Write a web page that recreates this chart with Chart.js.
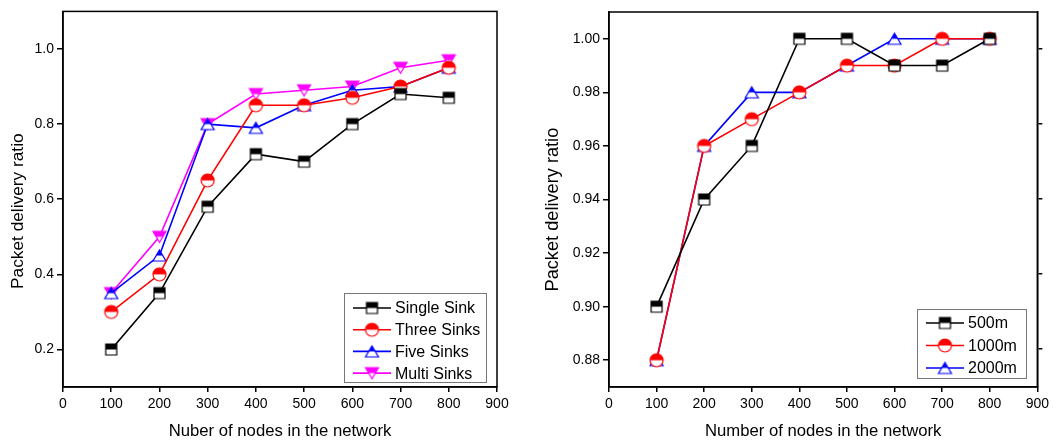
<!DOCTYPE html>
<html>
<head>
<meta charset="utf-8">
<script src="https://cdn.jsdelivr.net/npm/chart.js@4.4.1/dist/chart.umd.min.js"></script>
<style>
  body { margin: 0; background: #fff; }
  #wrap { position: relative; width: 1053px; height: 445px; }
  .box { position: absolute; top: 0; height: 445px; }
</style>
</head>
<body>
<div id="wrap">
  <div class="box" style="left:0;width:530px"><canvas id="c1"></canvas></div>
  <div class="box" style="left:530px;width:523px"><canvas id="c2"></canvas></div>
</div>
<script>
// ---- data ----
const nodes = [100, 200, 300, 400, 500, 600, 700, 800];
const xTicks = [0, 100, 200, 300, 400, 500, 600, 700, 800, 900];

// left chart
const singleSink = [0.20, 0.35, 0.58, 0.72, 0.70, 0.80, 0.88, 0.87];
const threeSinks = [0.30, 0.40, 0.65, 0.85, 0.85, 0.87, 0.90, 0.95];
const fiveSinks  = [0.35, 0.45, 0.80, 0.79, 0.85, 0.89, 0.90, 0.95];
const multiSinks = [0.35, 0.50, 0.80, 0.88, 0.89, 0.90, 0.95, 0.97];
const leftYTicks = [0.2, 0.4, 0.6, 0.8, 1.0];

// right chart
const range500  = [0.90, 0.94, 0.96, 1.00, 1.00, 0.99, 0.99, 1.00];
const range1000 = [0.88, 0.96, 0.97, 0.98, 0.99, 0.99, 1.00, 1.00];
const range2000 = [0.88, 0.96, 0.98, 0.98, 0.99, 1.00, 1.00, 1.00];
const rightYTicks = [0.88, 0.90, 0.92, 0.94, 0.96, 0.98, 1.00];

const FONT = "'Liberation Sans', Arial, sans-serif";

// half filled marker (top half coloured, bottom half white)
function makeMarker(shape, color) {
  const w = shape === 'rect' ? 11 : 13;
  const h = shape === 'rect' ? 11 : (shape === 'circle' ? 13 : 11);
  const pad = 2;
  const c = document.createElement('canvas');
  c.width = w + pad * 2; c.height = h + pad * 2;
  const ctx = c.getContext('2d');
  const cx = c.width / 2;
  const path = () => {
    ctx.beginPath();
    if (shape === 'rect') ctx.rect(pad, pad, w, h);
    else if (shape === 'circle') ctx.arc(cx, c.height / 2, w / 2, 0, Math.PI * 2);
    else if (shape === 'up') { ctx.moveTo(cx, pad); ctx.lineTo(pad + w, pad + h); ctx.lineTo(pad, pad + h); ctx.closePath(); }
    else { ctx.moveTo(pad, pad); ctx.lineTo(pad + w, pad); ctx.lineTo(cx, pad + h); ctx.closePath(); }
  };
  path(); ctx.fillStyle = '#fff'; ctx.fill();
  ctx.save();
  ctx.beginPath(); ctx.rect(0, 0, c.width, c.height / 2); ctx.clip();
  path(); ctx.fillStyle = color; ctx.fill();
  ctx.restore();
  path(); ctx.lineWidth = 1.2; ctx.strokeStyle = color; ctx.stroke();
  return c;
}

function series(label, vals, color, shape) {
  return {
    label,
    data: nodes.map((n, i) => ({ x: n, y: vals[i] })),
    borderColor: color,
    backgroundColor: color,
    borderWidth: 1.6,
    pointStyle: makeMarker(shape, color),
    pointRadius: 6,
    tension: 0
  };
}

// frame + legend box drawn on the canvas
const framePlugin = {
  id: 'frame',
  afterDraw(chart) {
    const { ctx, chartArea: a } = chart;
    ctx.save();
    ctx.strokeStyle = '#000';
    ctx.lineWidth = 1.5;
    ctx.strokeRect(a.left, a.top, a.right - a.left, a.bottom - a.top);

    const lg = chart.options.plugins.boxLegend;
    ctx.fillStyle = '#fff';
    ctx.fillRect(lg.x, lg.y, lg.w, lg.h);
    ctx.strokeStyle = '#777';
    ctx.lineWidth = 1;
    ctx.strokeRect(lg.x + 0.5, lg.y + 0.5, lg.w, lg.h);
    ctx.font = '16px ' + FONT;
    ctx.textBaseline = 'middle';
    chart.data.datasets.forEach((ds, i) => {
      const y = lg.y + lg.first + i * lg.step;
      ctx.strokeStyle = ds.borderColor;
      ctx.lineWidth = 1.6;
      ctx.beginPath(); ctx.moveTo(lg.x + 9, y); ctx.lineTo(lg.x + 47, y); ctx.stroke();
      const img = ds.pointStyle;
      ctx.drawImage(img, lg.x + 28 - img.width / 2, y - img.height / 2);
      ctx.fillStyle = '#000';
      ctx.fillText(ds.label, lg.x + 51, y + 1);
    });
    ctx.restore();
  }
};

function axisX(title, tpad) {
  return {
    type: 'linear', min: 0, max: 900,
    afterBuildTicks: s => { s.ticks = xTicks.map(v => ({ value: v })); },
    afterFit: s => { s.height = 58; },
    grid: { display: true, drawOnChartArea: false, tickLength: 5, color: '#000', lineWidth: 1.5 },
    border: { display: true, color: '#000', width: 1.5 },
    ticks: { font: { family: FONT, size: 14 }, color: '#000', padding: 4, maxRotation: 0 },
    title: { display: true, text: title, font: { family: FONT, size: 16.7 }, color: '#000', padding: { top: 0, bottom: tpad } }
  };
}

function axisY(min, max, ticks, dec, width, tpad, tsize, title) {
  return {
    type: 'linear', min, max, position: 'left',
    afterBuildTicks: s => { s.ticks = ticks.map(v => ({ value: v })); },
    afterFit: s => { s.width = width; },
    grid: { display: true, drawOnChartArea: false, tickLength: 6, color: '#000', lineWidth: 1.5 },
    border: { display: true, color: '#000', width: 1.5 },
    ticks: { font: { family: FONT, size: 14 }, color: '#000', padding: 3, callback: v => v.toFixed(dec) },
    title: { display: true, text: title, font: { family: FONT, size: tsize }, color: '#000', padding: { top: tpad, bottom: 0 } }
  };
}

const common = {
  responsive: true,
  maintainAspectRatio: false,
  animation: false,
  events: []
};

new Chart(document.getElementById('c1'), {
  type: 'line',
  data: {
    datasets: [
      series('Single Sink', singleSink, '#000000', 'rect'),
      series('Three Sinks', threeSinks, '#ff0000', 'circle'),
      series('Five Sinks', fiveSinks, '#0000ff', 'up'),
      series('Multi Sinks', multiSinks, '#ff00ff', 'down')
    ]
  },
  options: Object.assign({}, common, {
    layout: { padding: { top: 10, right: 33, left: 0, bottom: 0 } },
    plugins: {
      legend: { display: false },
      tooltip: { enabled: false },
      boxLegend: { x: 344, y: 293, w: 142, h: 89, first: 15, step: 21.7 }
    },
    scales: {
      x: axisX('Nuber of nodes in the network', 4),
      // trailing spaces nudge the rotated title down a little, like the original
      y: axisY(0.1, 1.1, leftYTicks, 1, 63, 7.5, 17.3, 'Packet delivery ratio     ')
    }
  }),
  plugins: [framePlugin]
});

new Chart(document.getElementById('c2'), {
  type: 'line',
  data: {
    datasets: [
      series('500m', range500, '#000000', 'rect'),
      series('1000m', range1000, '#ff0000', 'circle'),
      series('2000m', range2000, '#0000ff', 'up')
    ]
  },
  options: Object.assign({}, common, {
    layout: { padding: { top: 12, right: 0, left: 0, bottom: 0 } },
    plugins: {
      legend: { display: false },
      tooltip: { enabled: false },
      boxLegend: { x: 387, y: 309, w: 109, h: 69, first: 14, step: 22.5 }
    },
    scales: {
      x: axisX('Number of nodes in the network', 4),
      y: axisY(0.87, 1.01, rightYTicks, 2, 79, 12, 18.2, 'Packet delivery ratio    '),
      y2: {
        type: 'linear', position: 'right', min: -0.507, max: 4.493,
        afterBuildTicks: s => { s.ticks = [0, 1, 2, 3, 4].map(v => ({ value: v })); },
        afterFit: s => { s.width = 13; },
        grid: { display: true, drawOnChartArea: false, tickLength: 5, color: '#000', lineWidth: 1.5 },
        border: { display: true, color: '#000', width: 1.5 },
        ticks: { callback: () => '', padding: 0 }
      }
    }
  }),
  plugins: [framePlugin]
});
</script>
</body>
</html>
